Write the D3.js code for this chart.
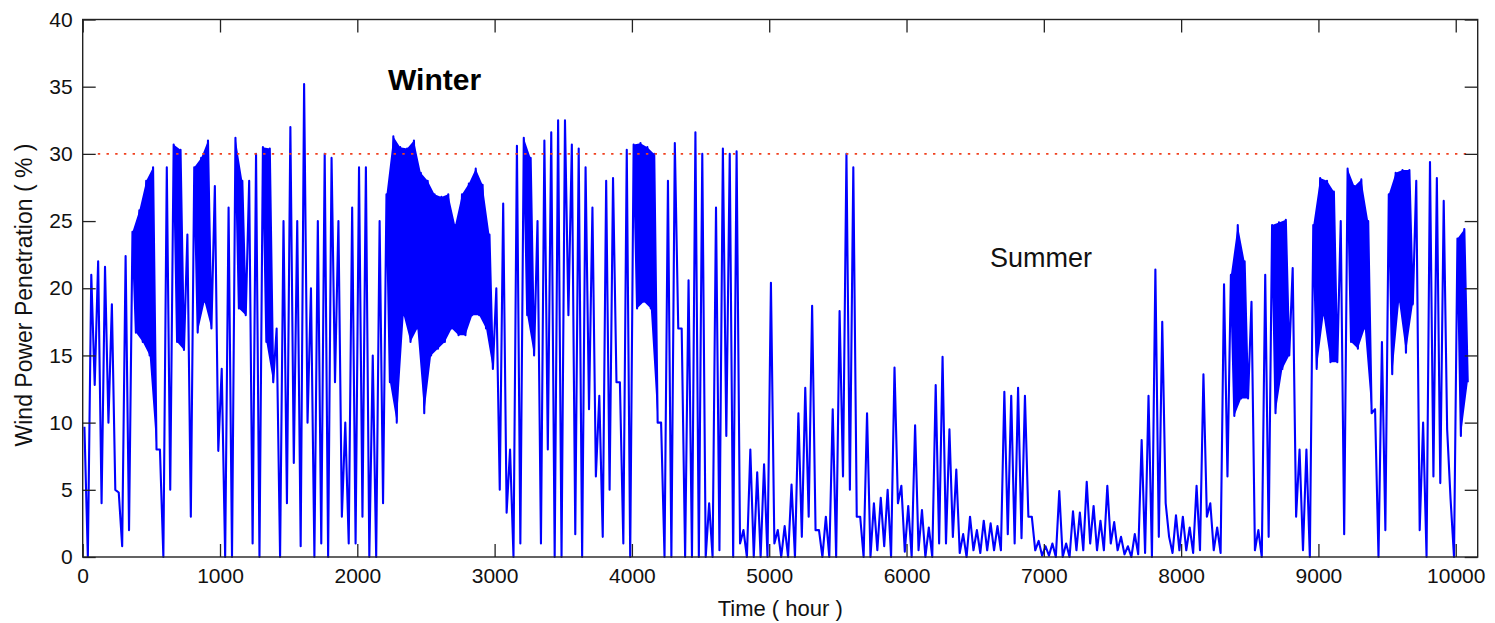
<!DOCTYPE html>
<html>
<head>
<meta charset="utf-8">
<script src="https://cdn.jsdelivr.net/npm/d3@7"></script>
<style>
  body { margin: 0; background: #fff; }
  svg { display: block; font-family: "Liberation Sans", Arial, sans-serif; }
</style>
</head>
<body>
<svg id="chart"></svg>
<script>
const binHours = 50;
const binHigh = [
  9.7, 21, 22, 21.6, 18.8, 4.8, 22.4, 24.2, 25.8, 28,
  29, 8, 29, 30.7, 30.3, 24, 29, 29.7, 31, 27.6,
  14, 26, 31.2, 28, 28, 30, 30.5, 30.4, 17, 25,
  32, 25, 35.2, 20, 25, 30, 29.7, 25, 10, 26,
  29, 29, 15, 25, 27, 31.3, 30.5, 30.4, 31, 28.6,
  28, 27, 26.8, 27, 24.7, 27, 27.8, 28.9, 27.7, 24,
  20, 26.3, 8, 30.6, 31.2, 29.7, 25, 31, 31.6, 32.5,
  32.5, 30.7, 30.4, 29, 26, 12, 28, 28.2, 13, 30.3,
  30.7, 30.8, 30.5, 30, 10, 28, 30.8, 17, 20.6, 31.6,
  30, 4, 26, 30.4, 30, 30.2, 2, 8, 6.3, 6.9,
  20.4, 2, 2.3, 5.4, 10.7, 12.6, 18.7, 2, 3, 11,
  18.3, 30, 29, 3, 10.7, 4, 4.4, 5, 14.1, 5.3,
  3.8, 9.8, 3.5, 2.2, 12.8, 14.9, 9.5, 6.5, 1.7, 3,
  2, 2.7, 2.5, 2.3, 12.3, 12, 12.6, 12, 3, 1.2,
  0.8, 1, 4.9, 1, 3.4, 3.3, 5.6, 3.8, 2.7, 5.3,
  2.6, 1.5, 0.8, 1.7, 8.7, 12, 21.4, 17.5, 1.5, 3.1,
  3, 2.2, 5.3, 13.6, 4, 2.2, 20.3, 21, 24.7, 22,
  19, 2, 21, 24.7, 24.9, 25.1, 21.5, 8, 8, 24.7,
  28.2, 28, 27.2, 25, 28.9, 27.6, 28.1, 25, 11, 16,
  27, 28.6, 28.8, 28.8, 28, 10, 29.4, 28.2, 26.5, 4.3,
  23.7, 24.4
];
const binLow = [
  0, 12.8, 4, 10, 5, 0.8, 2, 16.7, 16, 15,
  8, 0, 5, 16, 15.4, 3, 16.7, 19, 17, 7.9,
  0, 0, 18.5, 18, 1, 0, 16, 13, 0, 4,
  7, 0.8, 10, 0, 1, 0, 13, 3, 1, 1,
  3, 0, 0, 4, 13, 10, 18, 16, 17, 10.7,
  15, 15.5, 16, 17, 16.5, 16.5, 18, 18, 17, 14,
  5, 3.3, 0, 1, 18, 15, 1, 8, 0, 0,
  18, 1.7, 0, 11, 6, 1.5, 5, 13, 1, 0,
  18.5, 19, 18.5, 10, 0, 0, 17, 0, 0, 0,
  0, 0, 0.5, 9, 0, 1, 0, 0, 0, 0,
  1, 0, 0, 0, 1.5, 3, 2, 0, 0, 0,
  6, 5, 3, 0, 0, 0.5, 0.8, 0, 4, 0.4,
  0, 0.5, 0, 0, 1, 1, 1.5, 0.3, 0, 0.5,
  0.3, 0.5, 0.5, 0.5, 1.7, 1, 1.4, 3, 0.5, 0.1,
  0.1, 0, 0, 0, 0.5, 0.5, 1, 0.5, 0.5, 1,
  0.5, 0.2, 0, 0.2, 0.3, 0, 1.5, 4, 0.3, 0.5,
  0.5, 0.3, 0.5, 3, 0.5, 0.3, 6, 10.5, 11.8, 11.8,
  0.5, 0, 1.5, 10.7, 14, 15, 3, 0.5, 0, 14,
  18, 14.5, 14.5, 1.7, 16, 15.5, 17, 10.7, 0, 2,
  13.6, 19, 15.2, 18.8, 2, 0, 6, 5.5, 9.5, 0,
  9, 13
];

const limitValue = 30;
const limitSpan = [110, 10090];
const xTicks = [0, 1000, 2000, 3000, 4000, 5000, 6000, 7000, 8000, 9000, 10000];
const yTicks = [0, 5, 10, 15, 20, 25, 30, 35, 40];
const xMax = 10160;

const width = 1495, height = 623;
const margin = { top: 19.5, right: 17.3, bottom: 66, left: 82.7 };
const blue = "#0000ff";

var svg = d3.select("#chart").attr("width", width).attr("height", height);

var x = d3.scaleLinear().domain([0, xMax]).range([margin.left, width - margin.right]);
var y = d3.scaleLinear().domain([0, 40]).range([height - margin.bottom, margin.top]);

var bins = binHigh.map(function(h, i) {
  return { t: i * binHours, hi: h, lo: binLow[i] };
});

// where the hourly trace stays off the floor the daily swings merge into a solid band
var band = d3.area()
    .defined(d => d.lo >= 8)
    .x1(d => x(d.t + binHours * 0.25)).y1(d => y(d.hi))
    .x0(d => x(d.t + binHours * 0.75)).y0(d => y(d.lo));

svg.append("path")
    .datum(bins)
    .attr("fill", blue)
    .attr("d", band);

// zig-zag through the envelope: high then low inside each bin
var pts = [];
bins.forEach(function(d) {
  pts.push([d.t + binHours * 0.25, d.hi]);
  pts.push([d.t + binHours * 0.75, d.lo]);
});

var line = d3.line().x(d => x(d[0])).y(d => y(d[1]));

svg.append("path")
    .datum(pts)
    .attr("fill", "none")
    .attr("stroke", blue)
    .attr("stroke-width", 2.1)
    .attr("stroke-linejoin", "round")
    .attr("d", line);

// 30 % limit
svg.append("line")
    .attr("x1", x(limitSpan[0])).attr("x2", x(limitSpan[1]))
    .attr("y1", y(limitValue)).attr("y2", y(limitValue))
    .attr("stroke", "#f0401e")
    .attr("stroke-width", 1.8)
    .attr("stroke-dasharray", "2.4,6.3");

// axes, matlab style ticks pointing inwards
var tk = 13;
var fontSize = 21;

var xAxis = g => g
    .attr("transform", `translate(0,${y(0)})`)
    .call(d3.axisBottom(x).tickValues(xTicks).tickFormat(d3.format("d"))
      .tickSizeInner(-tk).tickSizeOuter(0).tickPadding(11))
    .call(g => g.select(".domain").remove());
var xAxisTop = g => g
    .attr("transform", `translate(0,${y(40)})`)
    .call(d3.axisTop(x).tickValues(xTicks).tickSizeInner(-tk).tickSizeOuter(0).tickFormat(""))
    .call(g => g.select(".domain").remove());
var yAxis = g => g
    .attr("transform", `translate(${x(0)},0)`)
    .call(d3.axisLeft(y).tickValues(yTicks).tickFormat(d3.format("d"))
      .tickSizeInner(-tk).tickSizeOuter(0).tickPadding(10))
    .call(g => g.select(".domain").remove());
var yAxisRight = g => g
    .attr("transform", `translate(${x(xMax)},0)`)
    .call(d3.axisRight(y).tickValues(yTicks).tickSizeInner(-tk).tickSizeOuter(0).tickFormat(""))
    .call(g => g.select(".domain").remove());

[xAxis, xAxisTop, yAxis, yAxisRight].forEach(function(a) {
  svg.append("g").call(a)
    .call(g => g.selectAll("line").attr("stroke", "#222").attr("stroke-width", 1.3))
    .call(g => g.selectAll("text").attr("fill", "#111").style("font-size", fontSize + "px")
      .style("font-family", '"Liberation Sans", Arial, sans-serif'));
});

svg.append("rect")
    .attr("x", x(0)).attr("y", y(40))
    .attr("width", x(xMax) - x(0)).attr("height", y(0) - y(40))
    .attr("fill", "none").attr("stroke", "#222").attr("stroke-width", 1.4);

// labels
svg.append("text")
    .attr("x", (x(0) + x(xMax)) / 2).attr("y", 616)
    .attr("text-anchor", "middle")
    .style("font-size", "22px").attr("fill", "#111")
    .text("Time ( hour )");

svg.append("text")
    .attr("transform", "translate(32,295) rotate(-90)")
    .attr("text-anchor", "middle")
    .style("font-size", "23px").attr("fill", "#111")
    .text("Wind Power Penetration ( % )");

svg.append("text")
    .attr("x", 388).attr("y", 90)
    .style("font-size", "30px").style("font-weight", "bold").attr("fill", "#000")
    .text("Winter");

svg.append("text")
    .attr("x", 990).attr("y", 267)
    .style("font-size", "27px").attr("fill", "#111")
    .text("Summer");
</script>
</body>
</html>
